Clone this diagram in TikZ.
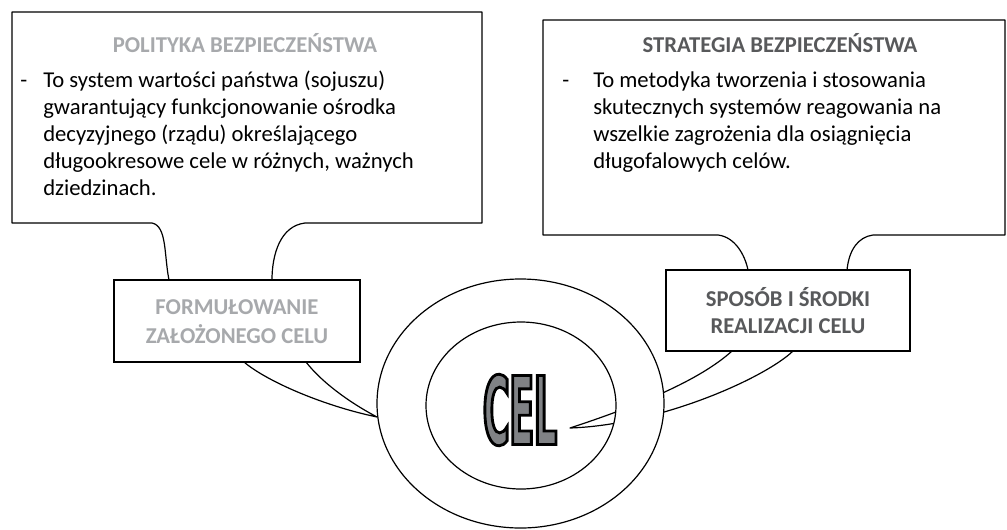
\documentclass[tikz,border=0pt]{standalone}
\usepackage{fontspec}
\setmainfont{Carlito}
\newfontfamily\celfont[FakeStretch=0.38,FakeBold=3]{DejaVu Sans}
\definecolor{ltgrey}{HTML}{A7A9AC}
\definecolor{dkgrey}{HTML}{58595B}
\definecolor{celgrey}{HTML}{808285}
\newcommand\celword{%
  \fontsize{71}{71}\selectfont\bfseries\color{celgrey}%
  \special{pdf:literal direct 0 0 0 RG}\celfont CEL}
\tikzset{
  callout/.style={draw=black, fill=white, line width=0.9pt, line join=round},
  goalbox/.style={draw=black, fill=white, line width=0.9pt, inner sep=0pt},
  bodytext/.style={anchor=base west, inner sep=0pt, font=\fontsize{17}{20.25}\selectfont, text=black},
  titletext/.style={anchor=base, inner sep=0pt, font=\fontsize{17}{20.25}\selectfont\bfseries},
}
\begin{document}
\begin{tikzpicture}[x=0.75pt, y=-0.75pt]
\useasboundingbox (0,0) rectangle (1007,529);

% ---- large callouts ----
\path[callout] (12,12) -- (482,12) -- (482,223) -- (305,223)
  .. controls (280,226) and (272,255) .. (272,280) -- (169,280)
  .. controls (164,255) and (167,226) .. (152,223) -- (12,223) -- cycle;
\path[callout] (543,20) -- (1005,20) -- (1005,235) -- (873,235)
  .. controls (858,237) and (849,250) .. (847,270) -- (748,270)
  .. controls (745,255) and (735,237) .. (718,235) -- (543,235) -- cycle;

% ---- goal boxes and their tails ----
\coordinate (ftip) at (377,417);
\coordinate (stip) at (570,428);
\path[callout] (244,362) .. controls (265,380) and (320,405) .. (ftip)
  .. controls (345,400) and (320,380) .. (306,362) -- cycle;
\path[callout] (732,351) .. controls (700,380) and (640,405) .. (stip)
  .. controls (660,425) and (765,378) .. (793,351) -- cycle;

\node[goalbox, minimum width=184.5pt, minimum height=61.5pt] (form) at (237,321) {};
\node[goalbox, minimum width=183pt, minimum height=60.75pt] (spos) at (788,310.5) {};

% ---- rings ----
\path[callout, even odd rule] (520.5,403.5) ellipse [x radius=107.625pt, y radius=93.375pt]
  (521,405.5) ellipse [x radius=71.25pt, y radius=62.625pt];

% ---- texts ----
\node[titletext, text=ltgrey] (poltitle) at (245,52) {POLITYKA BEZPIECZEŃSTWA};
\node[bodytext] (poldash) at (20,87.5) {-};
\node[bodytext] (pol1) at (43,87.5) {To system wartości państwa (sojuszu)};
\node[bodytext] (pol2) at (43,114.5) {gwarantujący funkcjonowanie ośrodka};
\node[bodytext] (pol3) at (43,141.5) {decyzyjnego (rządu) określającego};
\node[bodytext] (pol4) at (43,168.5) {długookresowe cele w różnych, ważnych};
\node[bodytext] (pol5) at (43,195.5) {dziedzinach.};

\node[titletext, text=dkgrey] (strtitle) at (780,52) {STRATEGIA BEZPIECZEŃSTWA};
\node[bodytext] (strdash) at (562,87) {-};
\node[bodytext] (str1) at (593,87) {To metodyka tworzenia i stosowania};
\node[bodytext] (str2) at (593,114.5) {skutecznych systemów reagowania na};
\node[bodytext] (str3) at (593,141.5) {wszelkie zagrożenia dla osiągnięcia};
\node[bodytext] (str4) at (593,168) {długofalowych celów.};

\node[titletext, text=ltgrey] (form1) at (237,314) {FORMUŁOWANIE};
\node[titletext, text=ltgrey] (form2) at (237,343) {ZAŁOŻONEGO CELU};
\node[titletext, text=dkgrey] (spos1) at (788,306) {SPOSÓB I ŚRODKI};
\node[titletext, text=dkgrey] (spos2) at (788,333) {REALIZACJI CELU};

\node[inner sep=0pt] (cel) at (520,410) {\celword};
\end{tikzpicture}
\end{document}
